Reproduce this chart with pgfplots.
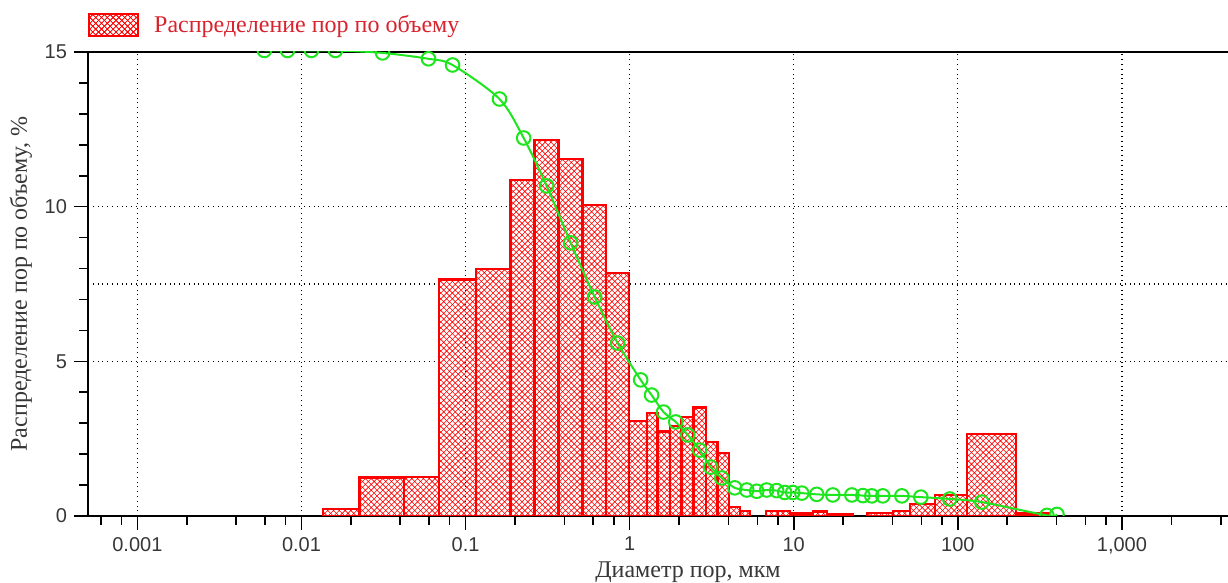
\documentclass[border=0pt]{standalone}
\usepackage{fontspec}
\setmainfont{Liberation Serif}
\setsansfont{Liberation Sans}
\usepackage{pgfplots}
\usepackage{pgfplotstable}
\pgfplotsset{compat=1.18}
\usetikzlibrary{patterns}
\definecolor{barred}{RGB}{255,0,0}
\definecolor{legred}{RGB}{215,35,45}
\definecolor{curvegreen}{RGB}{30,230,30}
\definecolor{labgray}{RGB}{55,55,55}
\pgfdeclarepatternformonly{mycross}{\pgfqpoint{-0.5pt}{-0.5pt}}{\pgfqpoint{3.4pt}{3.4pt}}{\pgfqpoint{2.9pt}{2.9pt}}{%
\pgfsetlinewidth{0.3pt}%
\pgfpathmoveto{\pgfqpoint{-0.1pt}{-0.1pt}}\pgfpathlineto{\pgfqpoint{3.0pt}{3.0pt}}%
\pgfpathmoveto{\pgfqpoint{-0.1pt}{3.0pt}}\pgfpathlineto{\pgfqpoint{3.0pt}{-0.1pt}}%
\pgfusepath{stroke}}

\pgfplotstableread{
x y
0.01349 0.22
0.02259 1.25
0.04217 1.27
0.06911 7.65
0.1155 7.98
0.1881 10.86
0.2635 12.16
0.369 11.54
0.517 10.05
0.719 7.86
0.990 3.08
1.275 3.32
1.482 2.73
1.761 2.90
2.075 3.21
2.456 3.51
2.907 2.40
3.440 2.03
4.044 0.30
4.685 0.17
5.391 0
}\barsA
\pgfplotstableread{
x y
6.75 0.17
7.99 0.17
9.46 0.08
13.06 0.15
15.89 0.07
22.9 0
}\barsB
\pgfplotstableread{
x y
27.9 0.10
40.1 0.17
50.9 0.38
72.4 0.68
113.5 2.65
225.8 0.08
364 0
}\barsC
\pgfplotstableread{
x y
0.00594 15.05
0.00822 15.05
0.0115 15.05
0.0161 15.05
0.0312 14.97
0.0594 14.78
0.0833 14.58
0.161 13.48
0.226 12.22
0.312 10.67
0.437 8.83
0.612 7.08
0.845 5.59
1.167 4.40
1.36 3.91
1.61 3.36
1.91 3.04
2.26 2.62
2.67 2.13
3.12 1.58
3.64 1.23
4.37 0.91
5.17 0.84
5.95 0.80
6.84 0.84
7.87 0.82
8.81 0.76
9.86 0.76
11.2 0.74
13.8 0.70
17.3 0.68
22.6 0.68
26.4 0.66
29.9 0.65
34.9 0.65
45.6 0.65
59.5 0.61
89.3 0.55
140 0.45
349 0.02
402 0.05
}\curve

\begin{document}
\begin{tikzpicture}
\begin{axis}[
  name=main,
  scale only axis, width=570pt, height=232pt,
  xmode=log, xmin=5e-4, xmax=4430, ymin=0, ymax=15,
  axis x line=box, axis y line=left,
  axis line style={-, black, line width=1.1pt},
  xtick={0.001,0.01,0.1,1,10,100,1000},
  xticklabels={0.001,0.01,0.1,1,10,100,{1,000}},
  minor xtick={6e-4,8e-4,2e-3,4e-3,6e-3,8e-3,0.02,0.04,0.06,0.08,0.2,0.4,0.6,0.8,2,4,6,8,20,40,60,80,200,400,600,800,2000,4000},
  ytick={0,5,10,15}, yticklabels={0,5,10,15},
  minor ytick={1,2,3,4,6,7,8,9,11,12,13,14},
  extra y ticks={7.5}, extra y tick labels={},
  extra y tick style={ymajorgrids=true, major tick length=0pt},
  ymajorgrids,
  major grid style={black, dotted, line width=0.6pt},
  tick align=outside, xtick pos=bottom, ytick pos=left,
  major tick length=7pt, minor tick length=4.5pt,
  tick style={black, line width=0.8pt},
  ticklabel style={font=\sffamily\fontsize{10}{12}\selectfont, text=labgray},
  xlabel={Диаметр пор, мкм},
  ylabel={Распределение пор по объему, \%},
  xlabel style={at={(axis description cs:0.5,0)}, anchor=base, yshift=-31pt, xshift=15pt, font=\fontsize{12}{14}\selectfont, text=labgray, inner sep=0pt},
  ylabel style={at={(axis description cs:-0.0588,0.5)}, anchor=center, font=\fontsize{12}{14}\selectfont, text=labgray, inner sep=0pt},
  legend style={at={(axis description cs:0,1)}, anchor=west, yshift=13.5pt, draw=none, fill=none, inner sep=0pt, outer sep=0pt, font=\fontsize{12}{14}\selectfont, text=legred, nodes={inner sep=0pt}},
  legend cell align=left,
]
\addplot[ybar interval, draw=barred, line width=1.2pt, fill=white, postaction={pattern=mycross, pattern color=barred},
  legend image code/.code={\draw[draw=barred, line width=1pt, fill=white, postaction={pattern=mycross, pattern color=barred}] (0pt,-5.5pt) rectangle (24.5pt,5.5pt); \path (32pt,0pt);}] table {\barsA};
\addlegendentry{Распределение пор по объему}
\addplot[forget plot, ybar interval, draw=barred, line width=1.2pt, fill=white, postaction={pattern=mycross, pattern color=barred}] table {\barsB};
\addplot[forget plot, ybar interval, draw=barred, line width=1.2pt, fill=white, postaction={pattern=mycross, pattern color=barred}] table {\barsC};
\coordinate (ll) at (rel axis cs:0,0);
\coordinate (ur) at (rel axis cs:1,1);
\end{axis}
\begin{scope}
\clip (ll) rectangle (ur);
\begin{axis}[
  scale only axis, width=570pt, height=247.4667pt,
  xmode=log, xmin=5e-4, xmax=4430, ymin=0, ymax=16,
  axis line style={draw=none},
  xtick={0.001,0.01,0.1,1,10,100,1000}, xticklabels={{},{},{},{},{},{},{}},
  ytick=\empty,
  xmajorgrids,
  major grid style={black, dotted, line width=0.6pt},
  tick style={draw=none},
]
\addplot[curvegreen, line width=1pt, smooth, tension=0.5, mark=o, mark size=3.4pt, mark options={solid, line width=1pt}] table {\curve};
\end{axis}
\end{scope}
\pgfresetboundingbox
\path ([shift={(-44pt,-33.5pt)}]ll) rectangle ([shift={(0pt,26pt)}]ur);
\end{tikzpicture}
\end{document}
